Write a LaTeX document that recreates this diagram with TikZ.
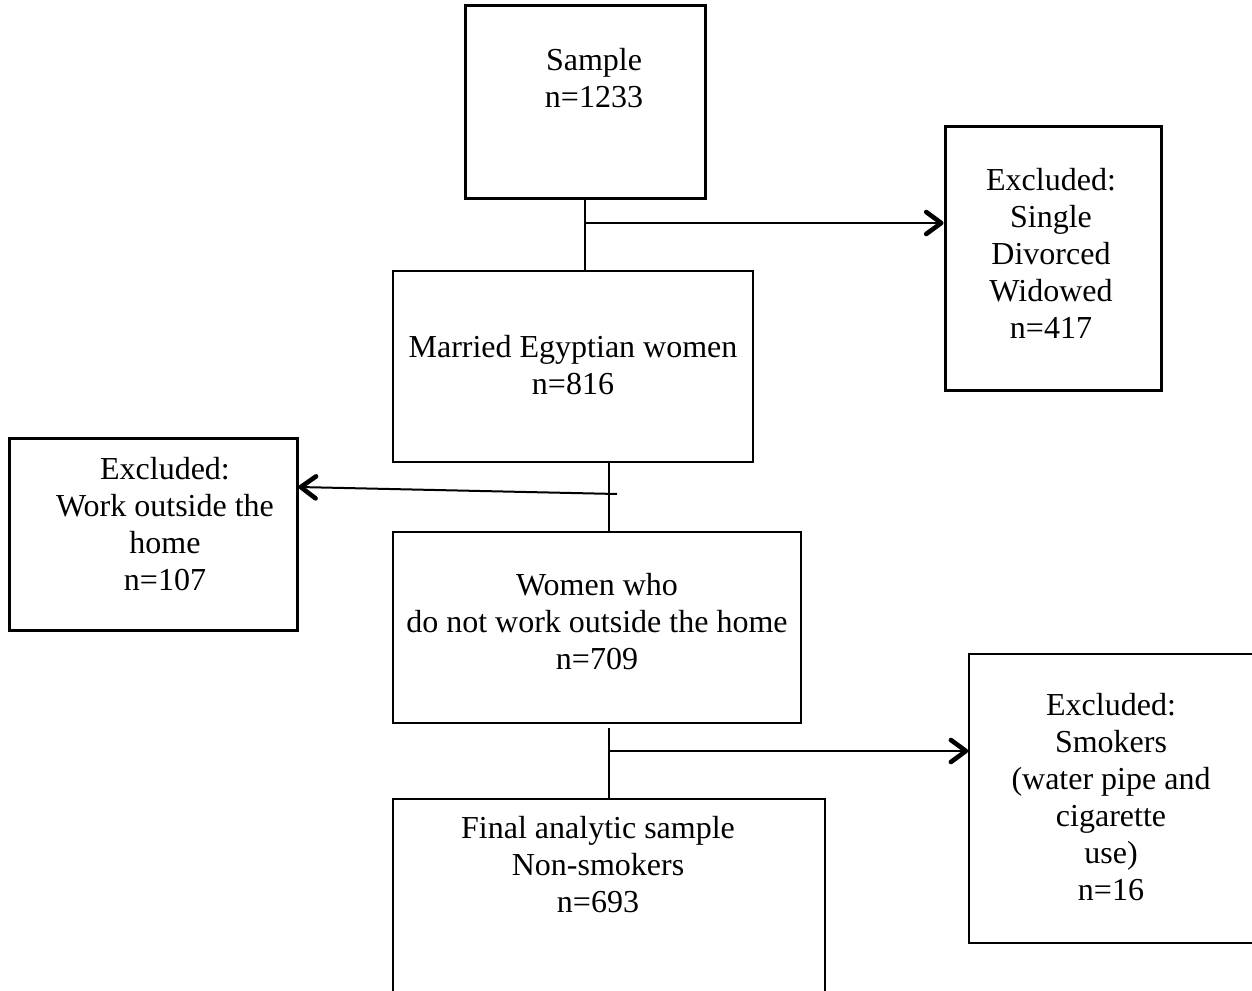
\documentclass[tikz,border=0pt]{standalone}
\usepackage{fontspec}
\setmainfont{Liberation Serif}
\usetikzlibrary{arrows.meta,positioning,calc}

\begin{document}
\begin{tikzpicture}[x=0.5pt, y=-0.5pt,
    boxthick/.style={rectangle, draw, line width=1.5pt, inner sep=0pt},
    boxthin/.style={rectangle, draw, line width=0.8pt, inner sep=0pt},
    boxtext/.style={align=center, inner sep=0pt, font=\fontsize{16}{18.5}\selectfont},
    link/.style={line width=1pt},
    >={Straight Barb[length=7.5pt, width=11pt, line width=2.3pt, round]}
]
\useasboundingbox (0,0) rectangle (1252,990);
\clip (0,0) rectangle (1252,990);

% boxes
\node[boxthick, minimum width=120pt, minimum height=96pt] (sample) at (585,102) {};
\node[boxthick, minimum width=108pt, minimum height=131.5pt] (excl1) at (1053,258.5) {};
\node[boxthin, minimum width=180pt, minimum height=95.5pt] (married) at (573,366.5) {};
\node[boxthick, minimum width=144pt, minimum height=96pt] (excl2) at (153,534) {};
\node[boxthin, minimum width=204pt, minimum height=95.5pt] (women) at (597,627.5) {};
\node[boxthin, minimum width=144.5pt, minimum height=144.5pt] (excl3) at (1113.5,798.5) {};
\node[boxthin, minimum width=216pt, minimum height=100.5pt] (final) at (609,899.5) {};

% texts
\node[boxtext] (sampletxt) at (594,78) {Sample\\n=1233};
\node[boxtext] (excl1txt) at (1051,253) {Excluded:\\Single\\Divorced\\Widowed\\n=417};
\node[boxtext] (marriedtxt) at (573,365) {Married Egyptian women\\n=816};
\node[boxtext] (excl2txt) at (165,524) {Excluded:\\Work outside the\\home\\n=107};
\node[boxtext] (womentxt) at (597,622) {Women who\\do not work outside the home\\n=709};
\node[boxtext] (excl3txt) at (1111,797) {Excluded:\\Smokers\\(water pipe and\\cigarette\\use)\\n=16};
\node[boxtext] (finaltxt) at (598,865) {Final analytic sample\\Non-smokers\\n=693};

% connectors
\coordinate (j1) at (585,223);
\coordinate (t2) at (609,0);
\coordinate (j2) at (617,494);
\coordinate (j3) at (609,751);

\draw[link] (sample.south) -- (sample.south |- married.north);
\draw[link,->] (j1) -- (j1 -| excl1.west);

\draw[link] (t2 |- married.south) -- (t2 |- women.north);
\draw[link,->] (j2) -- ([yshift=23.5pt]excl2.east);

\draw[link] ([yshift=-2pt]women.south -| final.north) -- (final.north);
\draw[link,->] (j3) -- (j3 -| excl3.west);
\end{tikzpicture}
\end{document}
